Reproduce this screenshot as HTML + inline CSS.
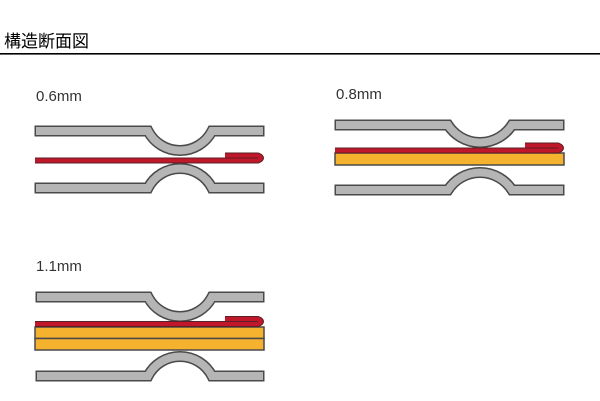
<!DOCTYPE html>
<html><head><meta charset="utf-8"><style>
body{margin:0;width:600px;height:401px;background:#fff;overflow:hidden}
svg{display:block}
</style></head><body>
<svg width="600" height="401" viewBox="0 0 600 401" xmlns="http://www.w3.org/2000/svg">
<text x="4" y="47" font-family="Liberation Sans, 'Noto Sans CJK JP', sans-serif" font-size="17" fill="#000">構造断面図</text>
<rect x="0" y="53" width="600" height="1.6" fill="#000"/>
<g font-family="Liberation Sans, sans-serif" font-size="15" fill="#333">
<text x="36" y="101">0.6mm</text>
<text x="336" y="99">0.8mm</text>
<text x="36" y="271">1.1mm</text>
</g>
<defs>
<style>
.o{fill:none;stroke:#4a4a4a;stroke-width:11;stroke-linecap:square;stroke-linejoin:miter}
.g{fill:none;stroke:#b5b5b5;stroke-width:8;stroke-linecap:square;stroke-linejoin:miter}
.ro{fill:none;stroke:#5a2025;stroke-width:6;stroke-linejoin:round}
.r{fill:none;stroke:#c0172a;stroke-width:4;stroke-linejoin:round}
</style>
</defs>
<!-- diagram 1 -->
<g>
<path class="o" d="M40,131 L148,131 A36,36 0 0 0 212,131 L259,131"/>
<path class="g" d="M40,131 L148,131 A36,36 0 0 0 212,131 L259,131"/>
<path class="o" d="M40,188 L148,188 A36,36 0 0 1 212,188 L259,188"/>
<path class="g" d="M40,188 L148,188 A36,36 0 0 1 212,188 L259,188"/>
<path class="ro" d="M35,160.5 L258,160.5 Q264,158 258,155.5 L225,155.5"/>
<path class="r" d="M35,160.5 L258,160.5 Q264,158 258,155.5 L225,155.5"/>
</g>
<!-- diagram 2 -->
<g transform="translate(300,0)">
<path class="o" d="M40,125 L148,125 A38,38 0 0 0 212,125 L259,125"/>
<path class="g" d="M40,125 L148,125 A38,38 0 0 0 212,125 L259,125"/>
<path class="o" d="M40,190 L148,190 A38,38 0 0 1 212,190 L259,190"/>
<path class="g" d="M40,190 L148,190 A38,38 0 0 1 212,190 L259,190"/>
<rect x="35" y="153" width="229" height="12" fill="#f4b22e" stroke="#4a4a4a" stroke-width="1.5"/>
<path class="ro" d="M35,150.5 L258,150.5 Q264,148 258,145.5 L225,145.5"/>
<path class="r" d="M35,150.5 L258,150.5 Q264,148 258,145.5 L225,145.5"/>
</g>
<!-- diagram 3 -->
<g>
<path class="o" d="M41,297 L148,297 A36,36 0 0 0 212,297 L259,297"/>
<path class="g" d="M41,297 L148,297 A36,36 0 0 0 212,297 L259,297"/>
<path class="o" d="M41,376 L148,376 A36,36 0 0 1 212,376 L259,376"/>
<path class="g" d="M41,376 L148,376 A36,36 0 0 1 212,376 L259,376"/>
<rect x="35" y="327" width="229" height="11.5" fill="#f4b22e" stroke="#4a4a4a" stroke-width="1.5"/>
<rect x="35" y="338.5" width="229" height="11.5" fill="#f4b22e" stroke="#4a4a4a" stroke-width="1.5"/>
<path class="ro" d="M35,324 L258,324 Q264,321.5 258,319 L225,319"/>
<path class="r" d="M35,324 L258,324 Q264,321.5 258,319 L225,319"/>
</g>
</svg>
</body></html>
